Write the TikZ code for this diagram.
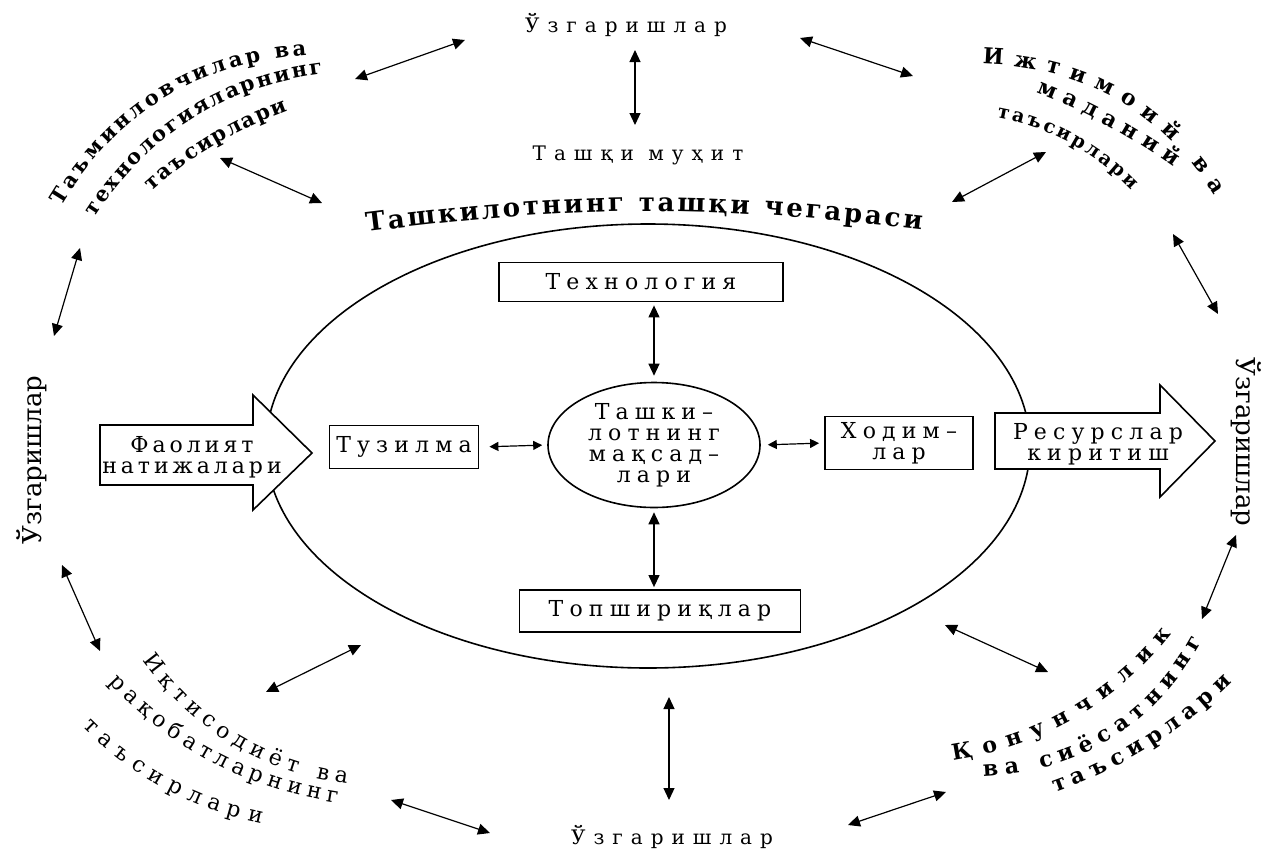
\documentclass[tikz,border=0pt]{standalone}
\usepackage{fontspec}
\usetikzlibrary{arrows.meta,shapes.geometric,decorations.text}

% slab-serif faces with typewriter-like tracking
\newfontfamily\wideface[LetterSpace=40]{DejaVu Serif}
\newfontfamily\boxface[LetterSpace=28]{DejaVu Serif}
\newfontfamily\arrowface[LetterSpace=18]{DejaVu Serif}
\newfontfamily\plainface{DejaVu Serif}
\newcommand\fntwide{\wideface\fontsize{20}{24}\selectfont}
\newcommand\fntbox{\boxface\fontsize{22}{21}\selectfont}
\newcommand\fntarrow{\arrowface\fontsize{22}{21}\selectfont}
\newcommand\fntvert{\plainface\fontsize{26}{28}\selectfont}
\newcommand\fntarc{\plainface\fontsize{22}{26}\selectfont}
\newcommand\fntarcb{\plainface\bfseries\fontsize{22}{26}\selectfont}
\newcommand\fntarcbb{\plainface\bfseries\fontsize{21}{26}\selectfont}
\newcommand\fntarcbs{\plainface\bfseries\fontsize{19}{24}\selectfont}
\newcommand\fntrim{\plainface\bfseries\fontsize{26}{30}\selectfont}

\tikzset{
  dbl/.style={{Triangle[length=12pt,width=11pt]}-{Triangle[length=12pt,width=11pt]}, line width=1.2pt},
  sdbl/.style={{Triangle[length=9pt,width=9pt]}-{Triangle[length=9pt,width=9pt]}, line width=1.2pt},
  rbox/.style={draw, line width=1.8pt, inner sep=0pt, align=center, font=\fntbox},
  bigarrow/.style={draw, fill=white, line width=1.6pt, line join=miter},
  arctext/.style={decorate, decoration={text along path, text align=fit to path, raise=-6pt, text={#1}}}
}

\begin{document}
\begin{tikzpicture}[x=1pt,y=-1pt]
\useasboundingbox (0,0) rectangle (1270,852);

% organisation boundary
\draw[line width=1.6pt] (648,446) ellipse [x radius=382, y radius=222];

% input / output arrows
\draw[bigarrow] (100,425) -- (253,425) -- (253,395) -- (312,453) -- (253,510) -- (253,485) -- (100,485) -- cycle;
\node[font=\fntarrow, align=center] (results) at (192,457) {Фаолият\\натижалари};
\draw[bigarrow] (995,413) -- (1160,413) -- (1160,385) -- (1215,441) -- (1160,497) -- (1160,469) -- (995,469) -- cycle;
\node[font=\fntbox, align=center] (resources) at (1098,444) {Ресурслар\\киритиш};

% inner elements
\node[draw, ellipse, line width=1.6pt, minimum width=212, minimum height=125, inner sep=0pt,
      align=center, font=\fntbox] (goal) at (654,445) {Ташки–\\лотнинг\\мақсад–\\лари};
\node[rbox, minimum width=284, minimum height=39] (tech) at (641,282) {Технология};
\node[rbox, minimum width=149, minimum height=43] (struct) at (404,447) {Тузилма};
\node[rbox, minimum width=148, minimum height=53] (staff) at (899,443) {Ходим–\\лар};
\node[rbox, minimum width=281, minimum height=42] (tasks) at (660,611) {Топшириқлар};

\draw[dbl, shorten <=3pt, shorten >=6pt] (tech.south -| goal.north) -- (goal.north);
\draw[dbl, shorten <=4pt, shorten >=2pt] (goal.south) -- (goal.south |- tasks.north);
\draw[sdbl, shorten <=10pt, shorten >=5pt] (struct.east) -- (goal.west);
\draw[sdbl, shorten <=7pt, shorten >=5pt] (goal.east) -- (staff.west);

% environment labels
\node[font=\fntwide] (topchg) at (626,25) {Ўзгаришлар};
\node[font=\fntwide] (env) at (638,155) {Ташқи муҳит};
\node[font=\fntwide] (botchg) at (672,837) {Ўзгаришлар};
\node[font=\fntvert, rotate=90] (leftchg) at (32,460) {Ўзгаришлар};
\node[font=\fntvert, rotate=-90] (rightchg) at (1246,442) {Ўзгаришлар};

% curved captions
\path[arctext={|\fntrim|Ташкилотнинг ташқи чегараси}] (366,226) to[bend left=7] (922,224);

\path[arctext={|\fntarcbb|Таъминловчилар ва}]
  (56,203) .. controls (113,108) and (196,57) .. (306,49);
\path[arctext={|\fntarcbb|технологияларнинг}]
  (90,214) .. controls (144.7,129.3) and (222,80.7) .. (322,68);
\path[arctext={|\fntarcbb|таъсирлари}]
  (148,187) .. controls (188,151) and (234,124) .. (286,105);

\path[arctext={|\fntarcb|Ижтимоий ва}]
  (983,58) .. controls (1086,61.3) and (1165,106) .. (1219,192);
\path[arctext={|\fntarcb|маданий}]
  (1039,87) .. controls (1087.7,106.2) and (1133.7,131.2) .. (1177,162);
\path[arctext={|\fntarcbs|таъсирлари}]
  (998,112) .. controls (1052,122) and (1098,147) .. (1136,186);

\path[arctext={|\fntarc|Иқтисодиёт ва}]
  (147,657) .. controls (197.7,726.4) and (264.7,766.7) .. (348,778);
\path[arctext={|\fntarc|рақобатларнинг}]
  (113,678) .. controls (174,743.7) and (249,783.3) .. (338,797);
\path[arctext={|\fntarc|таъсирлари}]
  (86.6,722.6) .. controls (136,772) and (194.6,804) .. (262.6,817.6);

\path[arctext={|\fntarcb|Қонунчилик}]
  (952,754) .. controls (1040.3,740.7) and (1112,699.3) .. (1167,630);
\path[arctext={|\fntarcb|ва сиёсатнинг}]
  (983,770) .. controls (1078.3,766) and (1149.7,722) .. (1197,638);
\path[arctext={|\fntarcb|таъсирлари}]
  (1053,787) .. controls (1120,763.3) and (1178.3,727) .. (1228,678);

% interaction arrows
\coordinate (a1s) at (355,79);   \coordinate (a1e) at (465,40);
\coordinate (a2s) at (635,50);   \coordinate (a2e) at (635,125);
\coordinate (a3s) at (800,38);   \coordinate (a3e) at (913,76);
\coordinate (a4s) at (220,158);  \coordinate (a4e) at (322,203);
\coordinate (a5s) at (952,202);  \coordinate (a5e) at (1046,152);
\coordinate (a6s) at (1173,234); \coordinate (a6e) at (1218,314);
\coordinate (a7s) at (80,248);   \coordinate (a7e) at (54,336);
\coordinate (a8s) at (62,565);   \coordinate (a8e) at (100,651);
\coordinate (a9s) at (1236,535); \coordinate (a9e) at (1202,619);
\coordinate (a10s) at (266,692); \coordinate (a10e) at (361,645);
\coordinate (a11s) at (945,625); \coordinate (a11e) at (1048,672);
\coordinate (a12s) at (669,697); \coordinate (a12e) at (669,800);
\coordinate (a13s) at (391,800); \coordinate (a13e) at (490,833);
\coordinate (a14s) at (848,825); \coordinate (a14e) at (946,792);
\foreach \k in {1,...,14} {\draw[dbl] (a\k s) -- (a\k e);}
\end{tikzpicture}
\end{document}
